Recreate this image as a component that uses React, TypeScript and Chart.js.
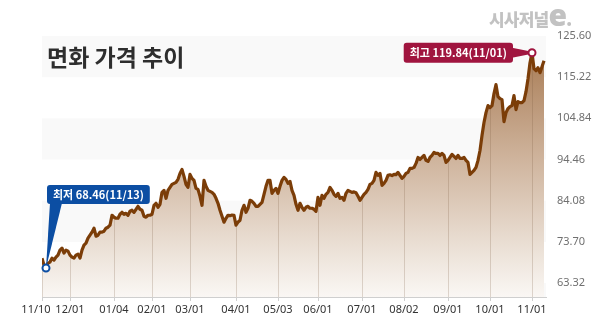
import React, { useEffect, useRef } from 'react';
import { Chart, registerables } from 'chart.js';

Chart.register(...registerables);

// Cotton price (면화) daily closes
const prices: number[] = [
  69.60, 67.84, 67.09, 68.35, 68.60, 69.60, 69.10, 69.85, 70.36, 71.61,
  72.12, 70.86, 71.61, 71.36, 70.36, 69.85, 69.60, 70.36, 70.61, 69.60,
  71.61, 72.87, 73.37, 74.63, 75.38, 76.14, 77.14, 75.13, 75.38, 76.14,
  76.14, 76.39, 77.14, 77.39, 77.90, 80.41, 79.91, 79.65, 79.65, 80.66,
  81.16, 80.66, 80.91, 80.41, 81.41, 81.67, 81.16, 81.92, 82.67, 81.92,
  81.67, 80.16, 79.91, 80.41, 80.41, 80.66, 82.92, 83.42, 82.42, 83.17,
  86.19, 86.69, 84.68, 86.69, 87.44, 88.20, 88.45, 88.70, 89.46, 90.96,
  91.97, 90.21, 88.20, 87.44, 90.71, 89.71, 89.20, 87.19, 86.94, 85.18,
  82.92, 89.20, 87.70, 86.69, 86.44, 86.19, 85.69, 84.68, 83.42, 81.67,
  80.16, 78.65, 79.65, 80.41, 80.30, 80.45, 80.41, 77.90, 78.65, 79.15,
  81.67, 82.92, 81.16, 82.17, 84.18, 83.93, 83.42, 82.67, 82.67, 83.17,
  83.68, 85.69, 87.70, 89.20, 89.20, 85.94, 86.69, 87.19, 85.94, 87.70,
  89.20, 89.96, 89.46, 88.45, 88.95, 86.69, 85.43, 83.17, 81.67, 83.42,
  82.42, 81.67, 82.42, 82.67, 82.17, 82.17, 81.92, 81.41, 84.93, 82.92,
  85.43, 84.68, 85.69, 86.19, 87.44, 86.69, 85.69, 85.18, 85.94, 84.68,
  84.93, 84.18, 85.94, 86.69, 86.44, 86.19, 86.30, 86.10, 85.18, 84.18,
  84.93, 85.69, 86.19, 86.94, 88.20, 88.45, 89.20, 91.22, 90.46, 90.96,
  87.95, 88.45, 89.20, 90.46, 90.60, 90.40, 90.71, 90.65, 91.22, 90.46,
  89.71, 90.21, 90.96, 91.22, 92.22, 92.22, 92.47, 93.48, 94.98, 94.48,
  94.98, 95.49, 94.23, 93.98, 94.98, 95.49, 96.24, 95.99, 95.99, 95.49,
  95.99, 95.49, 93.73, 94.23, 94.98, 95.74, 95.23, 94.73, 95.49, 94.73,
  94.73, 94.98, 94.23, 93.73, 90.71, 91.22, 91.72, 92.47, 94.23, 96.74,
  100.51, 103.78, 106.29, 108.05, 107.55, 108.05, 111.07, 113.33, 110.31, 109.81,
  109.56, 104.03, 106.29, 107.30, 107.80, 108.05, 110.56, 107.05, 109.06, 108.81,
  108.81, 109.31, 111.57, 114.84, 118.86, 121.37, 117.35, 116.85, 117.60, 116.35,
  117.85, 119.36,
];

// x tick positions (trading-day index) and their labels
const tickIndices: number[] = [0, 14, 36, 55, 74, 97, 118, 138, 160, 181, 203, 224, 245];
const tickLabels: string[] = ['11/10', '12/01', '01/04', '02/01', '03/01', '04/01', '05/03', '06/01', '07/01', '08/02', '09/01', '10/01', '11/01'];

// y axis tick values
const yTicks: number[] = [63.32, 73.70, 84.08, 94.46, 104.84, 115.22, 125.60];
const yMin = 59.8;
const yMax = 125.6;

// annotations
const minIndex = 2;
const minLabel = '최저 68.46(11/13)';
const maxIndex = 245;
const maxLabel = '최고 119.84(11/01)';

const title = '면화 가격 추이';

const KR = '"Noto Sans CJK KR", "Noto Sans", sans-serif';

function roundRect(ctx: CanvasRenderingContext2D, x: number, y: number, w: number, h: number, r: number) {
  ctx.beginPath();
  ctx.moveTo(x + r, y);
  ctx.lineTo(x + w - r, y);
  ctx.arcTo(x + w, y, x + w, y + r, r);
  ctx.lineTo(x + w, y + h - r);
  ctx.arcTo(x + w, y + h, x + w - r, y + h, r);
  ctx.lineTo(x + r, y + h);
  ctx.arcTo(x, y + h, x, y + h - r, r);
  ctx.lineTo(x, y + r);
  ctx.arcTo(x, y, x + r, y, r);
  ctx.closePath();
}

export default function App() {
  const canvasRef = useRef<HTMLCanvasElement | null>(null);

  useEffect(() => {
    const canvas = canvasRef.current;
    if (!canvas) return;
    const points = prices.map((v, i) => ({ x: i, y: v }));

    const bandsPlugin = {
      id: 'bands',
      beforeDraw(chart: any) {
        // nudge the first x label left so it does not collide with the next one
        const items = chart.scales.x.getLabelItems();
        if (items && items[0] && !items[0].__shifted) {
          items[0].options.translation[0] -= 6;
          items[0].__shifted = true;
        }
      },
      beforeDatasetsDraw(chart: any) {
        const { ctx, chartArea: a, scales } = chart;
        const y = scales.y;
        const desc = [...yTicks].sort((p, q) => q - p);
        ctx.save();
        ctx.fillStyle = '#f9f9f9';
        for (let k = 0; k < desc.length; k += 2) {
          const top = y.getPixelForValue(desc[k]);
          const bottom = y.getPixelForValue(k + 1 < desc.length ? desc[k + 1] : yMin);
          ctx.fillRect(a.left, top, a.right - a.left, bottom - top);
        }
        ctx.restore();
      },
      beforeDatasetDraw(chart: any, args: any) {
        if (args.index !== 0) return;
        const { ctx, chartArea: a, scales } = chart;
        const pts = chart.getDatasetMeta(1).data;
        if (!pts.length) return;
        ctx.save();
        ctx.beginPath();
        ctx.moveTo(pts[0].x, a.bottom);
        pts.forEach((p: any) => ctx.lineTo(p.x, p.y));
        ctx.lineTo(pts[pts.length - 1].x, a.bottom);
        ctx.closePath();
        ctx.clip();
        ctx.strokeStyle = 'rgba(120,85,60,0.22)';
        ctx.lineWidth = 1;
        ctx.beginPath();
        tickIndices.forEach((t) => {
          const px = Math.round(scales.x.getPixelForValue(t)) + 0.5;
          ctx.moveTo(px, a.top);
          ctx.lineTo(px, a.bottom);
        });
        ctx.stroke();
        ctx.restore();
      },
      afterDatasetsDraw(chart: any) {
        const { ctx } = chart;
        const pts = chart.getDatasetMeta(0).data;
        const pMin = pts[minIndex];
        const pMax = pts[maxIndex];
        ctx.save();
        ctx.font = `bold 11px ${KR}`;
        ctx.textBaseline = 'middle';
        ctx.textAlign = 'center';

        // min callout
        {
          const blue = '#0c4ea3';
          const w = ctx.measureText(minLabel).width + 12;
          const h = 19;
          const left = pMin.x + 1;
          const top = pMin.y - 83;
          ctx.fillStyle = blue;
          ctx.beginPath();
          ctx.moveTo(left + 3, top + h - 1);
          ctx.lineTo(left + 15, top + h - 1);
          ctx.lineTo(pMin.x, pMin.y);
          ctx.closePath();
          ctx.fill();
          roundRect(ctx, left, top, w, h, 3);
          ctx.fill();
          ctx.fillStyle = '#ffffff';
          ctx.fillText(minLabel, left + w / 2, top + h / 2 + 0.5);
          ctx.beginPath();
          ctx.arc(pMin.x, pMin.y, 3.5, 0, Math.PI * 2);
          ctx.fillStyle = '#ffffff';
          ctx.fill();
          ctx.lineWidth = 2;
          ctx.strokeStyle = blue;
          ctx.stroke();
        }
        // max callout
        {
          const red = '#a0153f';
          const w = ctx.measureText(maxLabel).width + 12;
          const h = 20;
          const right = pMax.x - 19;
          const left = right - w;
          const top = pMax.y - h / 2;
          ctx.fillStyle = red;
          ctx.beginPath();
          ctx.moveTo(right - 1, pMax.y - 5);
          ctx.lineTo(right - 1, pMax.y + 5);
          ctx.lineTo(pMax.x, pMax.y + 1);
          ctx.lineTo(pMax.x, pMax.y - 1);
          ctx.closePath();
          ctx.fill();
          roundRect(ctx, left, top, w, h, 3);
          ctx.fill();
          ctx.fillStyle = '#ffffff';
          ctx.fillText(maxLabel, left + w / 2, top + h / 2 + 0.5);
          ctx.beginPath();
          ctx.arc(pMax.x, pMax.y, 3.5, 0, Math.PI * 2);
          ctx.fillStyle = '#ffffff';
          ctx.fill();
          ctx.lineWidth = 2;
          ctx.strokeStyle = red;
          ctx.stroke();
        }
        ctx.restore();
      },
    };

    const chart = new Chart(canvas, {
      type: 'line',
      data: {
        datasets: [
          {
            data: points,
            borderColor: '#7b3d08',
            borderWidth: 3.2,
            borderJoinStyle: 'round',
            pointRadius: 0,
            fill: false,
            tension: 0,
            order: 0,
          },
          {
            data: points,
            borderWidth: 0,
            pointRadius: 0,
            fill: 'start',
            tension: 0,
            order: 1,
            backgroundColor: (c: any) => {
              const a = c.chart.chartArea;
              if (!a) return 'rgba(0,0,0,0)';
              const g = c.chart.ctx.createLinearGradient(0, a.top, 0, a.bottom);
              g.addColorStop(0, '#a3744b');
              g.addColorStop(0.45, '#cdb199');
              g.addColorStop(0.8, '#eadfd4');
              g.addColorStop(1, '#faf7f4');
              return g;
            },
          },
        ],
      },
      options: {
        responsive: false,
        animation: false,
        events: [],
        layout: { padding: { top: 36, left: 42, right: 0, bottom: 0 } },
        plugins: { legend: { display: false }, tooltip: { enabled: false } },
        scales: {
          x: {
            type: 'linear',
            min: 0,
            max: 252,
            afterBuildTicks: (s: any) => {
              s.ticks = tickIndices.map((v) => ({ value: v }));
            },
            afterFit: (s: any) => {
              s.height = 22;
            },
            grid: { display: true, drawOnChartArea: false, drawTicks: true, tickLength: 4, color: '#cfcfcf' },
            border: { display: true, color: '#cfcfcf', width: 1 },
            ticks: {
              autoSkip: false,
              maxRotation: 0,
              padding: 2,
              color: '#333333',
              font: { family: '"Noto Sans", sans-serif', size: 11 },
              callback: (v: any) => {
                const k = tickIndices.indexOf(Number(v));
                return k >= 0 ? tickLabels[k] : '';
              },
            },
          },
          y: {
            type: 'linear',
            position: 'right',
            min: yMin,
            max: yMax,
            afterBuildTicks: (s: any) => {
              s.ticks = yTicks.map((v) => ({ value: v }));
            },
            afterFit: (s: any) => {
              s.width = 54;
            },
            grid: { display: false },
            border: { display: false },
            ticks: {
              padding: 3,
              color: '#707070',
              font: { family: '"Noto Sans", sans-serif', size: 11 },
              callback: (v: any) => Number(v).toFixed(2),
            },
          },
        },
      },
      plugins: [bandsPlugin],
    } as any);

    return () => chart.destroy();
  }, []);

  return (
    <div style={{ position: 'absolute', left: 0, top: 0, width: 600, height: 319, background: '#ffffff', overflow: 'hidden' }}>
      <canvas ref={canvasRef} width={600} height={319} style={{ position: 'absolute', left: 0, top: 0 }} />
      <div
        style={{
          position: 'absolute',
          left: 47,
          top: 45,
          fontFamily: KR,
          fontWeight: 700,
          fontSize: 23,
          lineHeight: '23px',
          color: '#2e2e2e',
          whiteSpace: 'nowrap',
        }}
      >
        {title}
      </div>
      <div
        style={{
          position: 'absolute',
          left: 489,
          top: 0,
          fontFamily: KR,
          fontWeight: 900,
          color: '#c2c2c2',
          whiteSpace: 'nowrap',
          lineHeight: '30px',
        }}
      >
        <span style={{ fontSize: 17, letterSpacing: -0.8 }}>시사저널</span>
        <span style={{ fontSize: 30, fontFamily: '"Noto Sans", sans-serif', fontWeight: 900, letterSpacing: -1 }}>e</span>
        <span style={{ fontSize: 18, fontWeight: 900 }}>.</span>
      </div>
    </div>
  );
}
